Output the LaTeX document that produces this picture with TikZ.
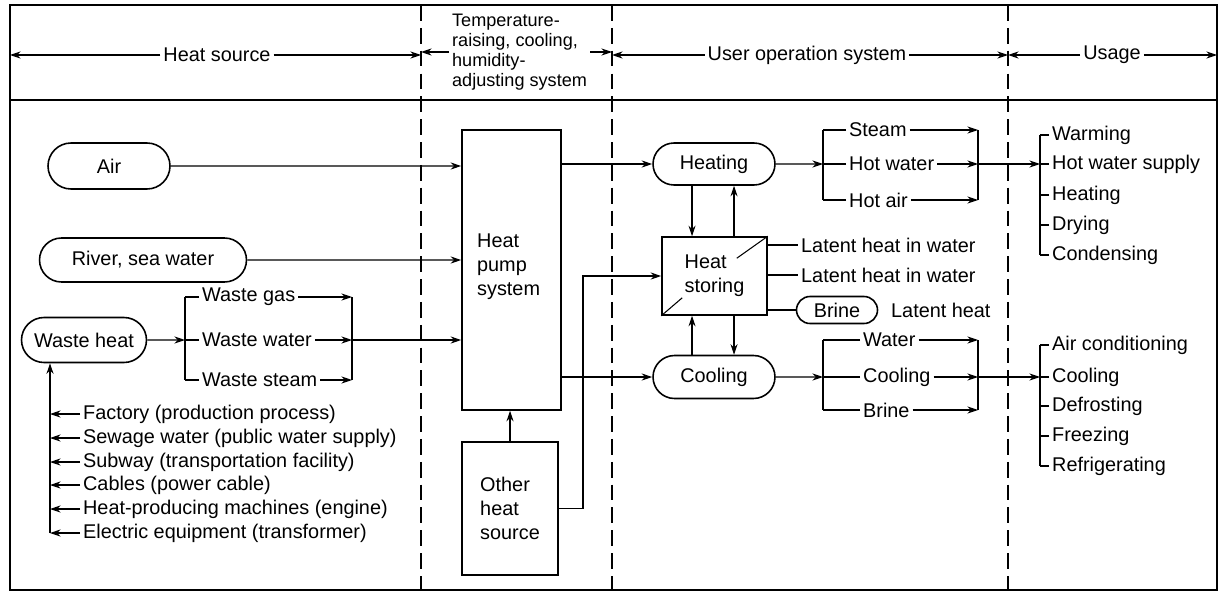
\documentclass[tikz,border=0pt]{standalone}
\usepackage{fontspec}
\setmainfont{Liberation Sans}
\usetikzlibrary{arrows.meta,shapes.misc}

\begin{document}
\begin{tikzpicture}[x=0.02cm,y=-0.02cm,
    every node/.style={font=\fontsize{11.3}{13.6}\selectfont,inner sep=1.5pt},
    pill/.style={rounded rectangle,draw,line width=0.9pt,inner sep=0pt},
    box/.style={rectangle,draw,line width=0.9pt,inner sep=0pt},
    lbl/.style={anchor=west},
    arr/.style={-{Stealth[length=6pt,width=4pt]}},
    sep/.style={line width=1.1pt,dash pattern=on 9pt off 4pt},
    line width=0.6pt]
  \useasboundingbox (0,0) rectangle (1219,598);
  % frame and columns
  \coordinate (nw) at (10,5);
  \coordinate (se) at (1217,590);
  \draw[line width=0.8pt] (nw) rectangle (se);
  \draw[line width=0.8pt] (10,100) -- (1217,100);
  \foreach \n/\x in {d1/421, d2/612, d3/1008}{
    \coordinate (\n) at (\x,5);
    \draw[sep] (\n) -- (\x,590);
  }
  % header
  \node (hsrc) at (217,55) {Heat source};
  \draw[arr] (hsrc.west) -- (hsrc.west -| nw);
  \draw[arr] (hsrc.east) -- (hsrc.east -| d1);
  \node[lbl,align=left,font=\fontsize{10.3}{11.5}\selectfont] (tcs) at (449,52)
    {Temperature-\\raising, cooling,\\humidity-\\adjusting system};
  \draw[arr] (tcs.west) -- (tcs.west -| d1);
  \draw[arr] (tcs.east) -- (tcs.east -| d2);
  \node (uos) at (807,55) {User operation system};
  \draw[arr] (uos.west) -- (uos.west -| d2);
  \draw[arr] (uos.east) -- (uos.east -| d3);
  \node (usg) at (1112,55) {Usage};
  \draw[arr] (usg.west) -- (usg.west -| d3);
  \draw[arr] (usg.east) -- (usg.east -| se);

  % heat sources
  \node[pill,minimum width=2.44cm,minimum height=0.92cm] (air) at (109,166) {Air};
  \node[pill,minimum width=4.14cm,minimum height=0.88cm] (river) at (143,260) {River, sea water};
  \node[pill,minimum width=2.5cm,minimum height=0.9cm] (waste) at (84,340) {Waste heat};
  \coordinate (wl) at (185,340);
  \coordinate (wr) at (352,340);
  \foreach \n/\t/\y in {wgas/Waste gas/297, wwat/Waste water/340, wstm/Waste steam/380}{
    \node[lbl] (\n) at (199,\y) {\t};
    \draw (\n.west) -- (\n.west -| wl);
    \draw[arr] (\n.east) -- (\n.east -| wr);
  }
  \draw (wgas.west -| wl) -- (wstm.west -| wl);
  \draw (wgas.east -| wr) -- (wstm.east -| wr);
  \draw[arr] (waste) -- (wl);
  \coordinate (lst) at (50,533);
  \foreach \i/\t/\y in {1/Factory (production process)/414,
      2/Sewage water (public water supply)/438, 3/Subway (transportation facility)/462,
      4/Cables (power cable)/485, 5/Heat-producing machines (engine)/509,
      6/Electric equipment (transformer)/533}{
    \node[lbl] (src\i) at (80,\y) {\t};
    \draw[arr] (src\i.west) -- (src\i.west -| lst);
  }
  \draw[arr] (lst) -- (lst |- waste.south);

  % heat pump
  \node[box,minimum width=1.98cm,minimum height=5.6cm] (pump) at (511.5,270) {};
  \node[lbl,align=left] (pumptxt) at (474,267) {Heat\\pump\\system};
  \node[box,minimum width=1.92cm,minimum height=2.66cm,align=left] (other) at (510,508.5)
    {Other\\heat\\source};
  \draw[arr] (air) -- (air -| pump.west);
  \draw[arr] (river) -- (river -| pump.west);
  \draw[arr] (wr) -- (wr -| pump.west);
  \draw[arr] (other.north) -- (other.north |- pump.south);

  % user operation
  \node[pill,minimum width=2.44cm,minimum height=0.84cm] (heat) at (714,164) {Heating};
  \node[pill,minimum width=2.44cm,minimum height=0.86cm] (cool) at (714,377) {Cooling};
  \node[box,minimum width=2.1cm,minimum height=1.56cm,align=left] (store) at (714.5,276)
    {Heat\\storing};
  \draw (store.north east) -- ++(-31,22);
  \draw (store.south west) -- ++(21,-18);
  \coordinate (oc) at (583,276);
  \draw[arr] (other.east) -| (oc) -- (store.west);
  \draw[arr] (pump.east |- heat) -- (heat);
  \draw[arr] (pump.east |- cool) -- (cool);
  \coordinate (ax1) at (692,0);
  \coordinate (ax2) at (734,0);
  \draw[arr] (heat.south -| ax1) -- (store.north -| ax1);
  \draw[arr] (store.north -| ax2) -- (heat.south -| ax2);
  \draw[arr] (cool.north -| ax1) -- (store.south -| ax1);
  \draw[arr] (store.south -| ax2) -- (cool.north -| ax2);
  \node[lbl] (lat1) at (798,245) {Latent heat in water};
  \node[lbl] (lat2) at (798,275) {Latent heat in water};
  \node[pill,minimum width=1.62cm,minimum height=0.54cm] (brine) at (837,310) {Brine};
  \node[lbl] (lath) at (888,310) {Latent heat};
  \draw (store.east |- lat1) -- (lat1);
  \draw (store.east |- lat2) -- (lat2);
  \draw (store.east |- brine) -- (brine);

  % heating outputs
  \coordinate (hl) at (823,164);
  \coordinate (hr) at (978,164);
  \foreach \n/\t/\y in {steam/Steam/130, hwat/Hot water/164, hair/Hot air/200}{
    \node[lbl] (\n) at (846,\y) {\t};
    \draw (\n.west) -- (\n.west -| hl);
    \draw[arr] (\n.east) -- (\n.east -| hr);
  }
  \draw (steam.west -| hl) -- (hair.west -| hl);
  \draw (steam.east -| hr) -- (hair.east -| hr);
  \draw[arr] (heat) -- (hl);

  % cooling outputs
  \coordinate (cl) at (823,377);
  \coordinate (cr) at (978,377);
  \foreach \n/\t/\y in {cwat/Water/340, ccool/Cooling/377, cbri/Brine/410}{
    \node[lbl] (\n) at (860,\y) {\t};
    \draw (\n.west) -- (\n.west -| cl);
    \draw[arr] (\n.east) -- (\n.east -| cr);
  }
  \draw (cwat.west -| cl) -- (cbri.west -| cl);
  \draw (cwat.east -| cr) -- (cbri.east -| cr);
  \draw[arr] (cool) -- (cl);

  % usage
  \coordinate (uh) at (1040,164);
  \foreach \i/\t/\y in {1/Warming/135, 2/Hot water supply/164, 3/Heating/195,
      4/Drying/225, 5/Condensing/255}{
    \node[lbl] (uh\i) at (1049,\y) {\t};
    \draw (uh\i.west) -- (uh\i.west -| uh);
  }
  \draw (uh1.west -| uh) -- (uh5.west -| uh);
  \draw[arr] (hr) -- (uh);
  \coordinate (uc) at (1040,377);
  \foreach \i/\t/\y in {1/Air conditioning/345, 2/Cooling/377, 3/Defrosting/406,
      4/Freezing/436, 5/Refrigerating/466}{
    \node[lbl] (uc\i) at (1049,\y) {\t};
    \draw (uc\i.west) -- (uc\i.west -| uc);
  }
  \draw (uc1.west -| uc) -- (uc5.west -| uc);
  \draw[arr] (cr) -- (uc);
\end{tikzpicture}
\end{document}
